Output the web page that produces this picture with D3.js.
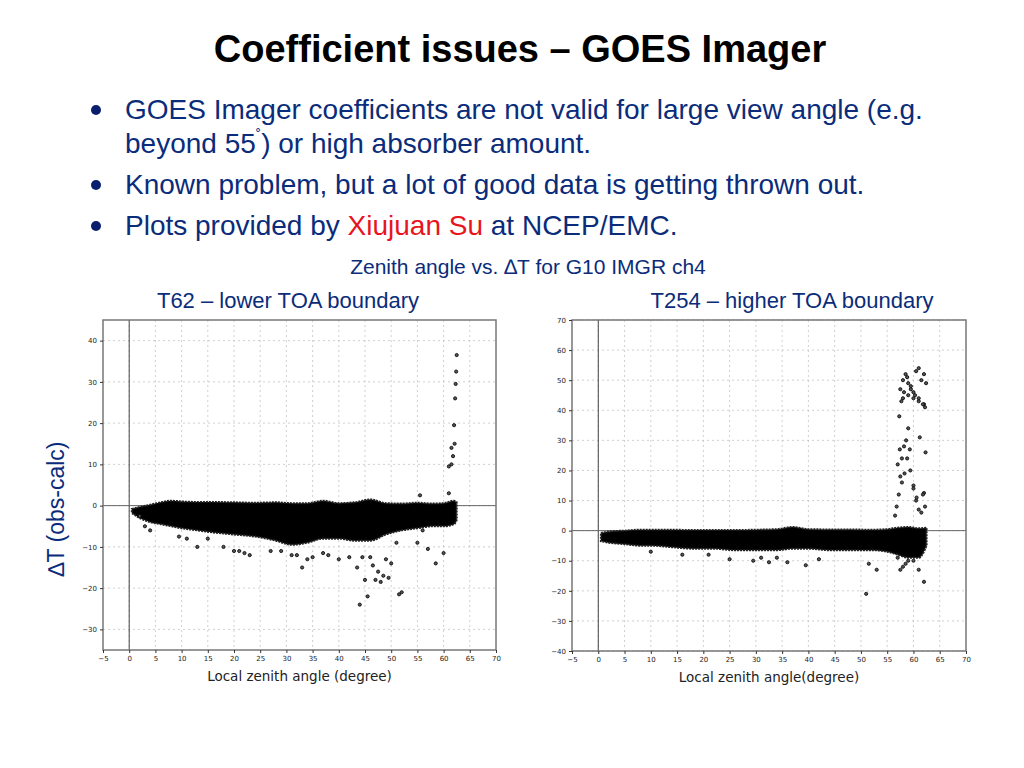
<!DOCTYPE html>
<html lang="en">
<head>
<meta charset="UTF-8">
<title>Coefficient issues - GOES Imager</title>
<script src="https://cdn.jsdelivr.net/npm/d3@7"></script>
<style>
    body { margin: 0; background: #fff; }
    svg { font-family: "Liberation Sans", Arial, sans-serif; }
    .grid line { stroke: #bbb; stroke-dasharray: 2,3; stroke-width: 0.7px; }
    .tick text { font-family: "DejaVu Sans", sans-serif; font-size: 7px; fill: #222; }
    .tick line { stroke: #333; }
    .pt { fill: #555; stroke: #000; stroke-width: 0.8px; }
</style>
</head>
<body>
<svg width="1024" height="768"></svg>
<script>
    var xTicks = [-5, 0, 5, 10, 15, 20, 25, 30, 35, 40, 45, 50, 55, 60, 65, 70];

    // T62 dense band envelope: x, upper, lower
    var bandX62 = [0.5, 2, 4, 6, 8, 10, 13, 16, 20, 24, 28, 31, 34, 37, 40, 43, 46, 49, 52, 55, 58, 60, 62, 62.5];
    var bandHi62 = [-0.8, -0.3, 0.2, 0.8, 1.2, 1.0, 0.9, 0.9, 0.8, 0.7, 0.8, 0.6, 0.6, 1.2, 0.6, 0.8, 1.5, 0.6, 0.5, 0.7, 0.5, 0.6, 1.2, 0.8];
    var bandLo62 = [-1.8, -3, -4, -4.5, -5, -5.5, -6, -6.5, -7, -7.5, -8.5, -9.5, -9, -8, -8, -8.5, -8.5, -7, -6, -5.5, -5, -5, -4.5, -3.5];
    var outX62 = [2, 3, 4, 9.5, 11, 13, 15, 18, 20, 21, 22, 23, 27, 29, 31, 32, 33, 34, 35, 37, 38, 40, 42, 43.5, 44, 44.5, 45, 45.5, 46, 46.5, 47, 47.5, 48, 48.5, 49, 49.5, 50, 51, 51.5, 52, 55, 56, 57, 58.5, 60, 61, 61.5, 62, 62.2, 62.3, 62.4, 62.1, 61.8, 62.5, 61.5, 61, 55.5];
    var outY62 = [-2.5, -5, -6, -7.5, -8, -10, -8, -10, -11, -11, -11.5, -12, -11, -11, -12, -12, -15, -13, -12.5, -11.5, -12, -13, -12.5, -15, -24, -12.5, -18, -22, -12.5, -14.5, -18, -16, -18.5, -17, -13, -17.5, -14, -9, -21.5, -21, -9, -6, -10.5, -14, -11.5, 3, 10, 19.5, 26, 29.5, 32.5, 15, 12, 36.5, 14, 9.5, 2.5];

    // T254 dense band envelope
    var bandX254 = [0.5, 2, 5, 8, 10, 14, 18, 22, 26, 30, 34, 37, 40, 44, 48, 52, 55, 57, 59, 61, 62.5];
    var bandHi254 = [-0.8, -0.3, 0, 0.3, 0.3, 0.3, 0.2, 0.2, 0.2, 0.3, 0.5, 1.2, 0.5, 0.4, 0.4, 0.3, 0.5, 1, 1.2, 0.8, 1];
    var bandLo254 = [-3.5, -4, -4.5, -5, -5, -5.5, -6, -6, -6.5, -6.5, -6.5, -6, -6, -6.5, -6.5, -6.5, -7, -8, -9, -9, -5];
    var outX254 = [10, 16, 21, 25, 29.5, 31, 32.5, 34, 36, 39.5, 42, 51, 51.5, 53, 57, 57.5, 58, 58.5, 59, 60, 61, 62, 56.5, 56.8, 57.2, 57.5, 57.8, 58.2, 58.6, 59, 59.4, 60, 60.5, 61, 61.5, 62, 62.3, 57, 57.4, 57.8, 58.3, 58.8, 59.3, 60, 60.6, 61.2, 61.8, 62.2, 57.5, 58, 58.5, 59, 59.5, 60, 60.5, 61, 61.5, 62, 62.4, 58, 59, 60, 61, 62, 57.3, 57.7, 58.2, 58.8, 59.5, 60.3, 61, 61.8, 62.2];
    var outY254 = [-7, -8, -8, -9.5, -10, -9, -10.5, -9, -10.5, -11.5, -9.5, -21, -11, -13, -9, -13, -12, -11, -10, -10, -13, -17, 5, 8, 12, 18, 24, 28, 30, 34, 20, 15, 10, 7, 6, 12.5, 26, 22, 27, 16, 19, 24, 27, 14, 11, 31, 12, 8, 47, 50, 52, 49, 48, 46, 53, 54, 50, 52, 49, 44, 45, 44, 43, 42, 38, 43, 46, 51, 47, 45, 44, 42, 41];

    var svg = d3.select('svg');

    // slide text
    svg.append('text').attr('x', 520).attr('y', 62).attr('text-anchor', 'middle')
        .attr('font-size', 38).attr('font-weight', 'bold')
        .text('Coefficient issues \u2013 GOES Imager');

    var bullets = [
        [{t: 'GOES Imager coefficients are not valid for large view angle (e.g.'}],
        [{t: 'beyond 55'}, {t: '\u02da', sup: true}, {t: ') or high absorber amount.'}],
        [{t: 'Known problem, but a lot of good data is getting thrown out.'}],
        [{t: 'Plots provided by '}, {t: 'Xiujuan Su', red: true}, {t: ' at NCEP/EMC.'}]
    ];
    var bulletY = [119, 153, 194, 235];
    var hasDot = [true, false, true, true];
    bullets.forEach(function (parts, i) {
        if (hasDot[i]) {
            svg.append('circle').attr('cx', 96).attr('cy', bulletY[i] - 9).attr('r', 5).attr('fill', '#0a1e6e');
        }
        var t = svg.append('text').attr('x', 125).attr('y', bulletY[i])
            .attr('font-size', 28).attr('fill', '#0a2c7a');
        parts.forEach(function (p) {
            var s = t.append('tspan').text(p.t);
            if (p.red) s.attr('fill', '#e8141e');
            if (p.sup) s.attr('dy', -12).attr('font-size', 16);
            else if (i === 1 && p.t.charAt(0) === ')') s.attr('dy', 12);
        });
    });

    svg.append('text').attr('x', 528).attr('y', 274).attr('text-anchor', 'middle')
        .attr('font-size', 21).attr('fill', '#0a2c7a').text('Zenith angle vs. \u2206T for G10 IMGR ch4');
    svg.append('text').attr('x', 288).attr('y', 308).attr('text-anchor', 'middle')
        .attr('font-size', 22).attr('fill', '#0a2c7a').text('T62 \u2013 lower TOA boundary');
    svg.append('text').attr('x', 792).attr('y', 308).attr('text-anchor', 'middle')
        .attr('font-size', 22).attr('fill', '#0a2c7a').text('T254 \u2013 higher TOA boundary');
    svg.append('text').attr('transform', 'translate(64,509) rotate(-90)').attr('text-anchor', 'middle')
        .attr('font-size', 23).attr('fill', '#0a2c7a').text('\u2206T (obs-calc)');

    function panel(opt) {
        var x = d3.scaleLinear().domain([-5, 70]).range([opt.left, opt.right]);
        var y = d3.scaleLinear().domain(opt.yDomain).range([opt.bottom, opt.top]);
        var g = svg.append('g');

        var grid = g.append('g').attr('class', 'grid');
        xTicks.slice(1, -1).forEach(function (t) {
            grid.append('line').attr('x1', x(t)).attr('x2', x(t)).attr('y1', opt.top).attr('y2', opt.bottom);
        });
        opt.yTicks.forEach(function (t) {
            grid.append('line').attr('y1', y(t)).attr('y2', y(t)).attr('x1', opt.left).attr('x2', opt.right);
        });

        g.append('line').attr('x1', x(0)).attr('x2', x(0)).attr('y1', opt.top).attr('y2', opt.bottom)
            .attr('stroke', '#444').attr('stroke-width', 1);
        g.append('line').attr('x1', opt.left).attr('x2', opt.right).attr('y1', y(0)).attr('y2', y(0))
            .attr('stroke', '#666').attr('stroke-width', 1);

        var band = opt.bandX.map(function (d, i) { return {x: d, hi: opt.bandHi[i], lo: opt.bandLo[i]}; });
        g.append('path').datum(band)
            .attr('d', d3.area().x(function (d) { return x(d.x); })
                .y0(function (d) { return y(d.lo); }).y1(function (d) { return y(d.hi); })
                .curve(d3.curveMonotoneX))
            .attr('fill', '#000').attr('stroke', '#222').attr('stroke-width', 2).attr('stroke-dasharray', '2,1');

        g.selectAll('.pt').data(opt.outX).enter().append('circle')
            .attr('class', 'pt')
            .attr('cx', function (d) { return x(d); })
            .attr('cy', function (d, i) { return y(opt.outY[i]); })
            .attr('r', 1.6);

        g.append('rect').attr('x', opt.left).attr('y', opt.top)
            .attr('width', opt.right - opt.left).attr('height', opt.bottom - opt.top)
            .attr('fill', 'none').attr('stroke', '#777').attr('stroke-width', 1.5);

        g.append('g').attr('transform', 'translate(0,' + opt.bottom + ')')
            .call(d3.axisBottom(x).tickValues(xTicks).tickSize(3).tickFormat(d3.format('d')))
            .select('.domain').remove();
        g.append('g').attr('transform', 'translate(' + opt.left + ',0)')
            .call(d3.axisLeft(y).tickValues(opt.yTicks).tickSize(3).tickFormat(d3.format('d')))
            .select('.domain').remove();

        g.append('text').attr('x', (opt.left + opt.right) / 2).attr('y', opt.bottom + 31)
            .attr('text-anchor', 'middle').attr('font-family', 'DejaVu Sans, sans-serif')
            .attr('font-size', 13.5).attr('fill', '#222').text(opt.xLabel);
    }

    panel({
        left: 103, right: 496, top: 320, bottom: 650,
        yDomain: [-35, 45], yTicks: [-30, -20, -10, 0, 10, 20, 30, 40],
        bandX: bandX62, bandHi: bandHi62, bandLo: bandLo62,
        outX: outX62, outY: outY62, xLabel: 'Local zenith angle (degree)'
    });
    panel({
        left: 572, right: 966, top: 320, bottom: 651,
        yDomain: [-40, 70], yTicks: [-40, -30, -20, -10, 0, 10, 20, 30, 40, 50, 60, 70],
        bandX: bandX254, bandHi: bandHi254, bandLo: bandLo254,
        outX: outX254, outY: outY254, xLabel: 'Local zenith angle(degree)'
    });
</script>
</body>
</html>
